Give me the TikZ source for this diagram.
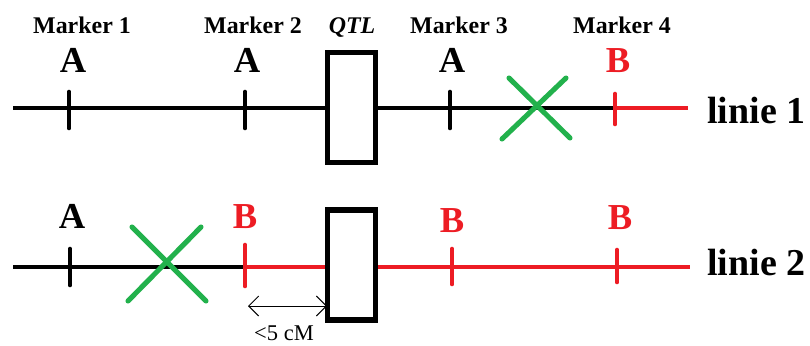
\documentclass[tikz,border=0pt]{standalone}
\usepackage{fontspec}
\setmainfont{Liberation Serif}
\usetikzlibrary{arrows.meta,backgrounds}
\definecolor{chrred}{HTML}{ED1C24}
\definecolor{xgreen}{HTML}{22B14C}

\begin{document}
\begin{tikzpicture}[
  x=0.025cm, y=-0.025cm,
  line cap=round,
  chrom/.style={line width=3.3pt},
  marktick/.style={line width=3.3pt},
  cross/.style={xgreen, line width=3.6pt},
  qtlbox/.style={draw, line width=3.6pt, fill=white, inner sep=0pt,
    minimum width=1.2cm, minimum height=2.75cm},
  mlabel/.style={font=\bfseries\fontsize{17}{17}\selectfont, anchor=base},
  allele/.style={font=\bfseries\fontsize{26}{26}\selectfont, anchor=base},
  linelabel/.style={font=\bfseries\fontsize{27}{27}\selectfont,
    anchor=base west, inner sep=0pt}
]
  \useasboundingbox (0,0) rectangle (810,345);

  % QTL boxes
  \node[qtlbox] (qtlA) at (351.5,107.5) {};
  \node[qtlbox] (qtlB) at (351.5,265) {};

  % Line ends
  \coordinate (startA) at (13,108);
  \coordinate (endA)   at (688,108);
  \coordinate (startB) at (13,267);
  \coordinate (endB)   at (690,267);
  \coordinate (m4A) at (615,108);
  \coordinate (m2B) at (245,267);

  % Chromosomes (behind the boxes)
  \begin{scope}[on background layer]
    \draw[chrom] (startA) -- (qtlA.west |- startA);
    \draw[chrom] (qtlA.east |- startA) -- (m4A);
    \draw[chrom, chrred] (m4A) -- (endA);
    \draw[chrom] (startB) -- (m2B);
    \draw[chrom, chrred] (m2B) -- (qtlB.west |- m2B);
    \draw[chrom, chrred] (qtlB.east |- m2B) -- (endB);
  \end{scope}

  % Marker ticks
  \foreach \x in {69,245,450}
    \draw[marktick] (\x,92) -- (\x,128);
  \draw[marktick, chrred] (615,94) -- (615,124);
  \draw[marktick] (70,249) -- (70,285);
  \foreach \x/\a/\b in {245/245/286,452/249/284,617/250/282}
    \draw[marktick, chrred] (\x,\a) -- (\x,\b);

  % Crossovers
  \draw[cross] (509,78) -- (570,138);
  \draw[cross] (566,78) -- (502,139);
  \draw[cross] (132,227) -- (206,301);
  \draw[cross] (201,227) -- (128,301);

  % Marker names
  \node[mlabel] (mk1) at (82,33)  {Marker 1};
  \node[mlabel] (mk2) at (253,33) {Marker 2};
  \node[mlabel] (qtl) at (352,33) {\itshape QTL};
  \node[mlabel] (mk3) at (459,33) {Marker 3};
  \node[mlabel] (mk4) at (622,33) {Marker 4};

  % Alleles
  \node[allele] (a1) at (73,72)  {A};
  \node[allele] (a2) at (247,72) {A};
  \node[allele] (a3) at (452,72) {A};
  \node[allele, chrred] (a4) at (618,72) {B};
  \node[allele] (b1) at (72,228) {A};
  \node[allele, chrred] (b2) at (245,228) {B};
  \node[allele, chrred] (b3) at (452,232) {B};
  \node[allele, chrred] (b4) at (620,229) {B};

  % Line names
  \node[linelabel] (lA) at (707,123) {linie 1};
  \node[linelabel] (lB) at (707,275) {linie 2};

  % Distance to the QTL
  \coordinate (dl) at (248,306);
  \coordinate (dr) at (qtlB.west |- dl);
  \draw[{Straight Barb[length=2.5mm,width=5mm]}-{Straight Barb[length=2.5mm,width=5mm]},
    line width=0.7pt, shorten >=-1.5pt] (dl) -- (dr);
  \node[anchor=base, font=\fontsize{16}{16}\selectfont] (dist) at (284,340) {<5 cM};
\end{tikzpicture}
\end{document}
